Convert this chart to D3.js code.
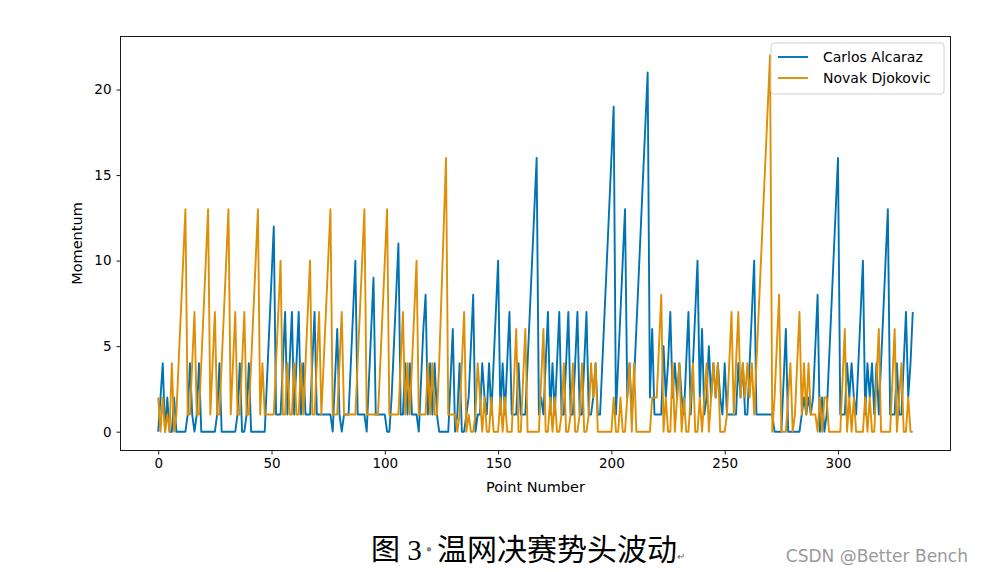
<!DOCTYPE html>
<html>
<head>
<meta charset="utf-8">
<script src="https://cdn.jsdelivr.net/npm/d3@7"></script>
<style>
  body { margin: 0; background: #fff; }
  svg text { font-family: "DejaVu Sans", sans-serif; }
</style>
</head>
<body>
<svg id="chart" width="983" height="572"></svg>
<script>
// momentum per point
var alcaraz = [
  0,2,4,0,2,0,0,2,0,0, 0,0,0,1,4,1,0,1,4,0, 0,0,0,0,0,0,1,4,0,0,
  0,0,0,0,0,1,4,0,0,1, 4,0,0,0,0,0,0,0,3,6, 9,12,1,1,1,4,7,1,4,7,
  1,4,7,1,4,1,1,1,4,7, 1,1,1,1,1,1,1,0,3,6, 1,0,1,1,1,4,7,10,1,1,
  1,1,0,3,6,9,1,1,1,1, 1,0,0,2,5,8,11,1,1,4, 1,4,1,1,1,0,3,6,8,1,
  4,1,4,1,0,0,0,0,0,3, 6,0,1,4,0,0,1,2,5,8, 0,1,1,4,2,1,4,1,4,7,
  10,1,4,1,4,7,1,1,1,4, 1,1,1,4,7,10,13,16,1,2, 1,4,7,1,4,1,4,7,1,1,
  4,7,1,1,4,7,1,1,4,7, 1,1,2,4,1,1,4,7,10,13, 16,19,1,4,7,10,13,2,4,1,
  3,6,9,12,15,18,21,2,6,1, 1,1,1,5,2,4,7,2,4,2, 4,2,1,4,7,1,4,7,10,2,
  6,1,2,5,2,4,2,4,2,1, 4,1,1,1,1,1,4,2,4,1, 1,4,7,10,1,1,1,1,1,1,
  1,1,0,0,0,0,3,6,0,0, 0,0,0,0,1,2,1,2,1,2, 5,8,0,2,0,1,4,7,10,13,
  16,1,1,1,4,2,4,2,1,4, 7,10,1,4,2,4,1,4,1,4, 7,10,13,1,1,1,4,1,1,4,
  7,2,4,7
];
var djokovic = [
  2,0,2,0,1,0,4,0,1,4, 7,10,13,1,1,4,7,1,1,4, 7,10,13,1,4,7,1,1,4,7,
  10,13,1,4,7,1,1,4,7,1, 1,4,7,10,13,1,4,1,1,1, 1,1,4,7,10,1,1,4,1,1,
  4,1,1,4,1,4,7,10,1,1, 4,7,1,4,7,10,13,1,1,1, 4,7,1,1,1,1,1,1,4,7,
  10,13,1,1,1,1,1,1,4,7, 10,13,1,1,1,1,1,4,7,1, 4,1,4,7,10,1,1,1,1,4,
  1,4,1,1,4,8,12,16,1,1, 1,1,0,1,4,7,0,1,0,0, 1,4,2,0,2,0,0,2,0,0,
  0,2,0,2,0,0,0,3,6,0, 0,3,6,0,0,0,0,0,0,3, 6,0,0,2,0,2,0,0,1,4,
  0,0,1,4,0,0,1,4,0,0, 1,4,2,4,0,0,0,0,0,0, 0,2,0,0,2,0,0,2,4,0,
  4,0,0,0,0,0,0,0,2,2, 2,5,8,0,2,0,0,4,0,2, 4,0,2,0,0,2,4,0,0,2,
  0,2,4,0,2,4,2,4,0,0, 0,1,4,7,1,4,7,2,4,2, 4,2,4,1,4,7,10,13,16,19,
  22,0,2,5,8,0,0,0,2,4, 0,1,4,7,1,4,1,4,1,1, 1,0,2,0,2,2,0,0,0,0,
  0,0,3,6,0,2,0,2,0,0, 0,0,2,0,2,0,0,3,6,0, 0,0,0,0,3,6,0,2,4,0,
  0,2,0,0
];
var players = ['Carlos Alcaraz', 'Novak Djokovic'];
var colors = ['#0173b2', '#de8f05'];
var xTicks = [0, 50, 100, 150, 200, 250, 300];
var yTicks = [0, 5, 10, 15, 20];

function drawChart() {
  var svg = d3.select('#chart');
  var left = 120.5, right = 950.5, ptop = 36.5, bottom = 450.5;

  var x = d3.scaleLinear().domain([-16.65, 349.65]).range([left, right]);
  var y = d3.scaleLinear().domain([-1.1, 23.1]).range([bottom, ptop]);

  svg.append('clipPath').attr('id', 'clip')
    .append('rect').attr('x', left).attr('y', ptop)
    .attr('width', right - left).attr('height', bottom - ptop);

  var line = d3.line()
    .x(function (d, i) { return x(i); })
    .y(function (d) { return y(d); });

  var plot = svg.append('g');
  [alcaraz, djokovic].forEach(function (series, k) {
    plot.append('path')
      .datum(series)
      .attr('clip-path', 'url(#clip)')
      .attr('fill', 'none')
      .attr('stroke', colors[k])
      .attr('stroke-width', 1.9)
      .attr('stroke-linejoin', 'round')
      .attr('d', line);
  });

  // axes
  var xAxis = svg.append('g')
    .attr('transform', 'translate(0,' + bottom + ')')
    .call(d3.axisBottom(x).tickValues(xTicks).tickSize(4).tickPadding(4));
  var yAxis = svg.append('g')
    .attr('transform', 'translate(' + left + ',0)')
    .call(d3.axisLeft(y).tickValues(yTicks).tickSize(4).tickPadding(5));
  [xAxis, yAxis].forEach(function (ax) {
    ax.select('.domain').remove();
    ax.selectAll('text').attr('font-size', '13.5px').attr('fill', '#000')
      .style('font-family', '"DejaVu Sans", sans-serif');
    ax.selectAll('line').attr('stroke', '#000').attr('stroke-width', 0.9);
  });

  svg.append('rect')
    .attr('x', left).attr('y', ptop)
    .attr('width', right - left).attr('height', bottom - ptop)
    .attr('fill', 'none').attr('stroke', '#000').attr('stroke-width', 0.9);

  svg.append('text')
    .attr('x', (left + right) / 2).attr('y', 492)
    .attr('text-anchor', 'middle').attr('font-size', '14.5px')
    .text('Point Number');
  svg.append('text')
    .attr('transform', 'translate(82,' + (ptop + bottom) / 2 + ') rotate(-90)')
    .attr('text-anchor', 'middle').attr('font-size', '14.5px')
    .text('Momentum');

  // legend
  var lg = svg.append('g').attr('transform', 'translate(771,43)');
  lg.append('rect')
    .attr('width', 173).attr('height', 51).attr('rx', 3)
    .attr('fill', '#fff').attr('fill-opacity', 0.8)
    .attr('stroke', '#d0d0d0').attr('stroke-width', 1);
  players.forEach(function (name, k) {
    var row = lg.append('g').attr('transform', 'translate(0,' + (14 + k * 21) + ')');
    row.append('line')
      .attr('x1', 7).attr('x2', 37).attr('y1', 0).attr('y2', 0)
      .attr('stroke', colors[k]).attr('stroke-width', 1.9);
    row.append('text')
      .attr('x', 52).attr('y', 0).attr('dy', '0.35em')
      .attr('font-size', '14px')
      .text(name);
  });

  // caption and watermark
  var cap = svg.append('text')
    .attr('x', 371).attr('y', 560)
    .style('font-family', '"Liberation Serif", "Noto Sans CJK SC", serif')
    .attr('font-size', '29px').attr('fill', '#000');
  cap.append('tspan').text('图 3');
  cap.append('tspan').attr('fill', '#888').attr('font-size', '18px').attr('dx', 4).attr('dy', -4).text('•');
  cap.append('tspan').attr('dy', 4).attr('dx', 5).attr('font-size', '30px').text('温网决赛势头波动');
  cap.append('tspan').attr('font-size', '10px').attr('fill', '#666').text('↵');

  svg.append('text')
    .attr('x', 968).attr('y', 562)
    .attr('text-anchor', 'end')
    .attr('font-size', '17px').attr('fill', '#9a9a9a')
    .style('font-family', '"DejaVu Sans", sans-serif')
    .text('CSDN @Better Bench');
}

drawChart();
</script>
</body>
</html>
